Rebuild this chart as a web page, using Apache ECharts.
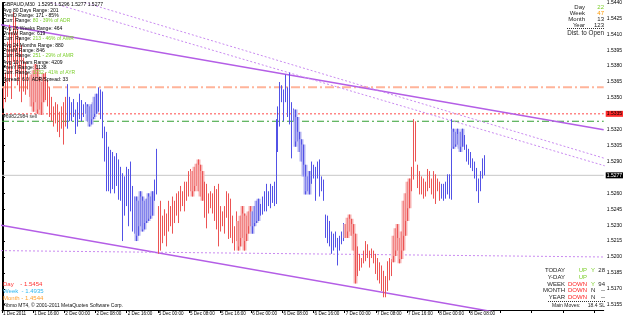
<!DOCTYPE html>
<html><head><meta charset="utf-8">
<script src="https://cdn.jsdelivr.net/npm/echarts@6/dist/echarts.min.js"></script>
<style>html,body{margin:0;padding:0;background:#fff}#c{width:625px;height:319px}</style>
</head><body><div id="c"></div>
<script>
// ---- data (GBPAUD, M30) ----
const highs = [1.5360,1.5374,1.5403,1.5419,1.5412,1.5431,1.5426,1.5415,1.5407,1.5400,1.5388,1.5384,1.5374,1.5370,1.5372,1.5376,1.5382,1.5378,1.5370,1.5365,
1.5373,1.5374,1.5367,1.5360,1.5351,1.5342,1.5346,1.5344,1.5337,1.5342,1.5346,1.5351,1.5363,1.5351,1.5346,1.5349,1.5339,1.5346,1.5354,1.5348,
1.5344,1.5346,1.5344,1.5342,1.5344,1.5346,1.5351,1.5354,1.5360,1.5358,1.5356,1.5323,1.5318,1.5304,1.5301,1.5299,1.5295,1.5298,1.5292,1.5285,
1.5279,1.5276,1.5285,1.5283,1.5290,1.5267,1.5257,1.5257,1.5253,1.5262,1.5257,1.5253,1.5255,1.5260,1.5257,1.5262,1.5273,1.5302,1.5248,1.5253,
1.5239,1.5245,1.5241,1.5253,1.5248,1.5257,1.5253,1.5260,1.5262,1.5267,1.5262,1.5271,1.5271,1.5281,1.5283,1.5281,1.5285,1.5288,1.5292,1.5287,
1.5281,1.5271,1.5269,1.5260,1.5262,1.5260,1.5267,1.5264,1.5269,1.5248,1.5243,1.5248,1.5262,1.5260,1.5255,1.5239,1.5229,1.5243,1.5234,1.5239,
1.5248,1.5241,1.5239,1.5243,1.5248,1.5243,1.5248,1.5253,1.5255,1.5250,1.5257,1.5262,1.5269,1.5262,1.5269,1.5267,1.5271,1.5330,1.5342,1.5365,
1.5362,1.5358,1.5372,1.5360,1.5374,1.5346,1.5340,1.5339,1.5332,1.5318,1.5311,1.5306,1.5287,1.5276,1.5281,1.5290,1.5287,1.5285,1.5290,1.5292,
1.5276,1.5273,1.5240,1.5239,1.5234,1.5224,1.5222,1.5224,1.5218,1.5220,1.5224,1.5232,1.5231,1.5237,1.5240,1.5236,1.5231,1.5222,1.5210,1.5203,
1.5199,1.5206,1.5215,1.5212,1.5206,1.5208,1.5206,1.5203,1.5199,1.5195,1.5192,1.5187,1.5182,1.5196,1.5199,1.5198,1.5220,1.5227,1.5231,1.5218,
1.5224,1.5253,1.5260,1.5271,1.5274,1.5285,1.5330,1.5328,1.5287,1.5281,1.5276,1.5274,1.5271,1.5283,1.5281,1.5274,1.5281,1.5278,1.5274,1.5271,
1.5269,1.5269,1.5271,1.5278,1.5278,1.5330,1.5321,1.5318,1.5321,1.5316,1.5318,1.5321,1.5315,1.5306,1.5302,1.5299,1.5293,1.5290,1.5284,1.5274,
1.5281,1.5293,1.5296];
const lows = [1.5340,1.5346,1.5351,1.5365,1.5349,1.5384,1.5370,1.5362,1.5356,1.5346,1.5356,1.5353,1.5358,1.5351,1.5342,1.5337,1.5346,1.5335,1.5339,1.5334,
1.5346,1.5348,1.5342,1.5332,1.5328,1.5323,1.5326,1.5318,1.5313,1.5321,1.5306,1.5323,1.5321,1.5328,1.5328,1.5332,1.5316,1.5323,1.5330,1.5328,
1.5332,1.5335,1.5328,1.5323,1.5325,1.5330,1.5332,1.5335,1.5337,1.5330,1.5312,1.5290,1.5262,1.5262,1.5260,1.5264,1.5260,1.5267,1.5254,1.5253,
1.5215,1.5239,1.5248,1.5229,1.5243,1.5224,1.5222,1.5215,1.5220,1.5229,1.5224,1.5226,1.5232,1.5234,1.5236,1.5239,1.5253,1.5259,1.5203,1.5206,
1.5213,1.5220,1.5210,1.5224,1.5229,1.5222,1.5232,1.5239,1.5232,1.5243,1.5248,1.5243,1.5253,1.5257,1.5262,1.5257,1.5262,1.5267,1.5262,1.5257,
1.5253,1.5237,1.5227,1.5241,1.5246,1.5241,1.5234,1.5226,1.5210,1.5224,1.5229,1.5222,1.5237,1.5217,1.5218,1.5213,1.5206,1.5215,1.5206,1.5210,
1.5218,1.5206,1.5215,1.5222,1.5229,1.5222,1.5229,1.5232,1.5234,1.5239,1.5240,1.5243,1.5243,1.5248,1.5246,1.5251,1.5248,1.5250,1.5299,1.5323,
1.5346,1.5328,1.5346,1.5332,1.5325,1.5293,1.5328,1.5304,1.5309,1.5299,1.5290,1.5276,1.5259,1.5262,1.5259,1.5269,1.5274,1.5253,1.5274,1.5257,
1.5262,1.5253,1.5218,1.5213,1.5210,1.5203,1.5206,1.5209,1.5192,1.5206,1.5212,1.5215,1.5218,1.5218,1.5224,1.5220,1.5206,1.5175,1.5182,1.5187,
1.5190,1.5194,1.5196,1.5199,1.5190,1.5199,1.5194,1.5184,1.5178,1.5175,1.5168,1.5162,1.5162,1.5168,1.5178,1.5182,1.5195,1.5201,1.5206,1.5194,
1.5198,1.5206,1.5220,1.5234,1.5246,1.5262,1.5273,1.5290,1.5265,1.5259,1.5259,1.5255,1.5257,1.5262,1.5265,1.5259,1.5255,1.5250,1.5262,1.5253,
1.5255,1.5253,1.5255,1.5259,1.5255,1.5254,1.5302,1.5304,1.5306,1.5302,1.5299,1.5304,1.5301,1.5290,1.5287,1.5284,1.5281,1.5274,1.5262,1.5251,
1.5262,1.5274,1.5277];
// colour state of the bars, as runs of [state, count]
const trendRuns = [['down',32],['up',46],['down',47],['up',47],['down',48],['up',23]];
// bars drawn with the light (smoothed) body: [firstBar, lastBar]
const shadeRanges = [[14,20],[42,47],[67,75],[95,100],[118,124],[125,128],[147,154],[172,177],[196,204],[226,231]];
const priceTicks = [1.5440,1.5425,1.5410,1.5395,1.5380,1.5365,1.5350,1.5335,1.5320,1.5305,1.5290,1.5275,1.5260,1.5245,1.5230,1.5215,1.5200,1.5185,1.5170,1.5155];
const priceTickLabels = ['1.5440','1.5425','1.5410','1.5395','1.5380','1.5365','1.5350','','1.5320','1.5305','1.5290','','1.5260','1.5245','1.5230','1.5215','1.5200','1.5185','1.5170','1.5155'];
const dateLabels = ['1 Dec 2011','1 Dec 16:00','2 Dec 00:00','2 Dec 08:00','2 Dec 16:00','5 Dec 00:00','5 Dec 08:00','5 Dec 16:00','6 Dec 00:00','6 Dec 08:00','6 Dec 16:00','7 Dec 00:00','7 Dec 08:00','7 Dec 16:00','8 Dec 00:00','8 Dec 08:00'];
const levelSalmon = 1.5360, levelRed = 1.5335, levelGreen = 1.5328, levelBid = 1.5277;
const upperChannel = [[-1,1.5419],[302,1.5320]];
const lowerChannel = [[-1,1.5230],[302,1.5130]];
const dottedA = [[24,1.5440],[302.5,1.5286]];
const dottedB = [[41,1.5440],[302.5,1.5293]];
const baseDotted = [[-1,1.5206],[302,1.5200]];

// ---- build ----
const state = [];
trendRuns.forEach(([s,n]) => { for (let k=0;k<n;k++) state.push(s==='up'?1:0); });
const shade = highs.map(()=>0);
shadeRanges.forEach(([a,b]) => { for (let k=a;k<=b;k++) shade[k]=1; });
const bars = highs.map((h,i)=>[i,h,lows[i],state[i],shade[i]]);

const FONT = 'Liberation Sans, Arial, sans-serif';
const chart = echarts.init(document.getElementById('c'), null, {renderer:'canvas'});

function txt(x,y,text,color,size,align,rich){
  return {type:'text', x, y, silent:true, z:20, style:{text, fill:color||'#000', font:(size||5)+'px '+FONT, align:align||'left', verticalAlign:'middle', rich}};
}
const G = '#7ccf2c';
const rich5 = {g:{fill:G, font:'5px '+FONT}};
const leftBlock = [
  ['GBPAUD,M30  1.5295 1.5296 1.5277 1.5277',5],
  ['Avg 80 Days Range: 201',11],
  ['PrevD Range: 171 - 85%',16],
  ['Curr. Range: {g|80 - 39% of ADR}',21],
  ['Avg 26 Weeks Range: 464',29],
  ['PrevW Range: 619',34],
  ['Curr. Range: {g|213 - 46% of AWR}',39],
  ['Avg 24 Months Range: 880',46],
  ['PrevM Range: 846',51],
  ['Curr. Range: {g|251 - 29% of AMR}',56],
  ['Avg 10 Years Range: 4209',63],
  ['PrevY Range: 3138',68],
  ['Curr. Range: {g|1732 - 41% of AYR}',73],
  ['Spread: 6.0  ADR/Spread: 33',80]
];
const graphics = leftBlock.map(([t,y]) => txt(3,y,t,'#000',5,'left',rich5));
graphics.push(txt(3,117,'#69822984 sell','#333',5));
// top right box
[['Day','22',G,7],['Week','47','#ff9900',13],['Month','13','#222',19],['Year','123','#222',25]].forEach(([l,v,c,y])=>{
  graphics.push(txt(585,y,l,'#222',6,'right'));
  graphics.push(txt(604,y,v,c,6,'right'));
});
graphics.push({type:'line', silent:true, z:20, shape:{x1:567,y1:28.5,x2:605,y2:28.5}, style:{stroke:'#333', lineWidth:1, lineDash:[1,1]}});
graphics.push(txt(604,33.5,'Dist. to Open','#222',6.3,'right'));
// bottom right box
[['TODAY','UP',G,'Y',G,'28',270],['Y-DAY','UP',G,'','', '',277],['WEEK','DOWN','#ff2020','Y',G,'94',284],['MONTH','DOWN','#ff2020','N','#222','--',290.5],['YEAR','DOWN','#ff2020','N','#222','--',297]].forEach(([a,b,bc,c,cc,d,y])=>{
  graphics.push(txt(565,y,a,'#222',6,'right'));
  graphics.push(txt(587,y,b,bc,6,'right'));
  if (c) graphics.push(txt(591,y,c,cc,6,'left'));
  if (d) graphics.push(txt(605,y,d,'#222',6,'right'));
});
graphics.push({type:'line', silent:true, z:20, shape:{x1:548,y1:301.5,x2:605,y2:301.5}, style:{stroke:'#333', lineWidth:1, lineDash:[1,1]}});
graphics.push(txt(552,305.5,'Main Moves:','#222',5));
graphics.push(txt(605,305.5,'18.4 SL','#222',5,'right'));
// bottom left
graphics.push(txt(3,284,'Day    - 1.5454','#ff3030',6));
graphics.push(txt(3,291,'Week  - 1.4935','#30b8f0',6));
graphics.push(txt(3,298,'Month - 1.4544','#ffa030',6));
graphics.push(txt(3,306,'Fibmo MT4, \u00a9 2001-2011 MetaQuotes Software Corp.','#111',5));

const trendLine = (data, color, type, width, z) => ({
  type:'line', xAxisIndex:0, yAxisIndex:0, data, showSymbol:false, symbol:'none', silent:true, clip:true,
  lineStyle:{color, width, type}, z:z||3
});
const levelLine = (v, color, type, width, label) => {
  const s = trendLine([[-0.5, v],[302, v]], color, type, width, 2);
  if (label) s.endLabel = {show:true, distance:2, formatter:()=>v.toFixed(4), color:label.color, backgroundColor:label.bg, padding:[1,1,0,1], fontSize:5, fontFamily:FONT};
  return s;
};

chart.setOption({
  animation:false,
  backgroundColor:'#fff',
  grid:{left:1, right:19, top:0, bottom:9, containLabel:false},
  xAxis:[
    {type:'value', min:-0.5, max:302, show:false},
    {type:'value', min:0, max:309, interval:16, position:'bottom',
     axisLine:{show:true, lineStyle:{color:'#000', width:1}},
     axisTick:{show:true, length:3, lineStyle:{color:'#000'}},
     splitLine:{show:false},
     axisLabel:{show:true, align:'left', margin:1, padding:[0,0,0,1], fontSize:4.6, fontFamily:FONT, color:'#000', showMaxLabel:false,
       formatter:v => dateLabels[Math.round(v/16)] || ''}}
  ],
  yAxis:[
    {type:'value', min:1.5150, max:1.5440, position:'right',
     axisLine:{show:true, lineStyle:{color:'#000', width:1}},
     axisTick:{show:true, length:2, customValues:priceTicks, lineStyle:{color:'#000'}},
     splitLine:{show:false},
     axisLabel:{show:true, margin:3, fontSize:5, fontFamily:FONT, color:'#000', customValues:priceTicks,
       formatter:v => { const k = priceTicks.findIndex(t=>Math.abs(t-v)<1e-6); return k>=0 ? priceTickLabels[k] : ''; }}},
    {type:'value', min:1.5150, max:1.5440, position:'left', axisLine:{show:true, lineStyle:{color:'#000'}}, axisTick:{show:false}, axisLabel:{show:false}, splitLine:{show:false}}
  ],
  series:[
    levelLine(levelSalmon, '#ffb49a', [9,3,2,3], 2),
    levelLine(levelRed, '#ff4a4a', [2,2], 1, {color:'#000', bg:'#ff2a2a'}),
    levelLine(levelGreen, '#33a033', [7,3,2,3], 1),
    levelLine(levelBid, '#c8c8c8', 'solid', 1, {color:'#fff', bg:'#000'}),
    {type:'custom', xAxisIndex:0, yAxisIndex:0, data:bars, silent:true, z:4, clip:true,
     renderItem:(params, api) => {
       const i = api.value(0), hi = api.value(1), lo = api.value(2), up = api.value(3), sh = api.value(4);
       const a = api.coord([i,hi]), b = api.coord([i,lo]);
       const x = Math.round(a[0]) + 0.5;
       const ch = [];
       if (sh) ch.push({type:'rect', shape:{x:x-2, y:a[1], width:4, height:b[1]-a[1]}, style:{fill: up ? '#b4b4f2' : '#f7b4b4'}});
       ch.push({type:'line', shape:{x1:x, y1:a[1], x2:x, y2:b[1]}, style:{stroke: up ? '#5252e6' : '#ec5454', lineWidth:1}});
       return {type:'group', children:ch};
     }
    },
    trendLine(upperChannel, '#b45ee6', 'solid', 1.5),
    trendLine(lowerChannel, '#b45ee6', 'solid', 1.5),
    trendLine(dottedA, '#c98af0', [2,2], 1),
    trendLine(dottedB, '#c98af0', [2,2], 1),
    trendLine(baseDotted, '#c98af0', [2,2], 1)
  ],
  graphic: graphics
});
</script></body></html>
